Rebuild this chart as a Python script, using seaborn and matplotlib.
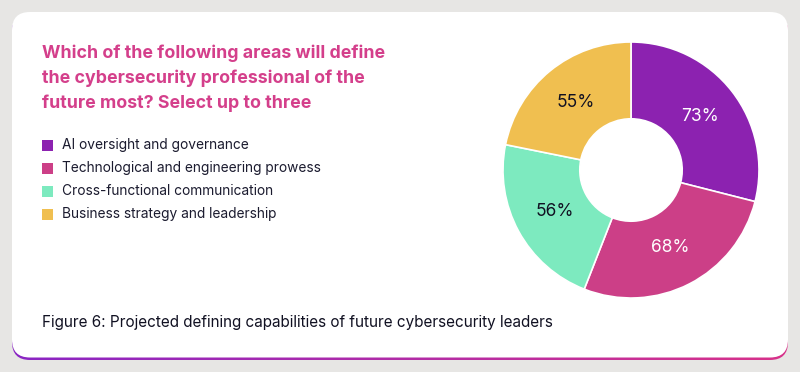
import numpy as np
import matplotlib
matplotlib.use("Agg")
import matplotlib.pyplot as plt
from matplotlib.patches import FancyBboxPatch, Rectangle
from matplotlib.colors import LinearSegmentedColormap
import seaborn as sns

categories = ["AI oversight and governance",
              "Technological and engineering prowess",
              "Cross-functional communication",
              "Business strategy and leadership"]
values = [73, 68, 56, 55]
value_labels = ["73%", "68%", "56%", "55%"]
colors = ["#8c22b0", "#cc3f87", "#7deabf", "#f0bf50"]
label_colors = ["white", "white", "#111122", "#111122"]
title_lines = ["Which of the following areas will define",
               "the cybersecurity professional of the",
               "future most? Select up to three"]
caption = "Figure 6: Projected defining capabilities of future cybersecurity leaders"

sns.set_theme(style="white")
plt.rcParams['font.family'] = ['Inter', 'DejaVu Sans']

W, H = 800, 372
fig = plt.figure(figsize=(W / 100, H / 100), dpi=100)
fig.patch.set_facecolor("#e7e6e4")

bg = fig.add_axes([0, 0, 1, 1])
bg.set_xlim(0, W)
bg.set_ylim(H, 0)
bg.axis("off")

# gradient strip under the card
grad_patch = FancyBboxPatch((12, 14), 776, 346, boxstyle="round,pad=0,rounding_size=18",
                            facecolor="none", edgecolor="none")
bg.add_patch(grad_patch)
cmap = LinearSegmentedColormap.from_list("g", ["#8a25c4", "#d8328a"])
gimg = bg.imshow(np.linspace(0, 1, 256)[None, :], cmap=cmap, aspect="auto",
                 extent=[12, 788, 360, 14], zorder=1)
gimg.set_clip_path(grad_patch)
card = FancyBboxPatch((12, 12), 776, 345.5, boxstyle="round,pad=0,rounding_size=18",
                      facecolor="white", edgecolor="none", zorder=2)
bg.add_patch(card)
bg.set_xlim(0, W)
bg.set_ylim(H, 0)

for i, line in enumerate(title_lines):
    bg.text(42, 53 + 25 * i, line, color="#d43f8b", fontsize=12.8, fontweight="bold",
            va="center", ha="left", zorder=3)

for i, (cat, c) in enumerate(zip(categories, colors)):
    y = 145 + 23 * i
    bg.add_patch(Rectangle((42, y - 5.5), 11, 11, facecolor=c, edgecolor="none", zorder=3))
    bg.text(62, y, cat, color="#1b1b2f", fontsize=9.9, va="center", ha="left", zorder=3)

bg.text(42, 323, caption, color="#111122", fontsize=11.0, va="center", ha="left", zorder=3)

# donut
cx, cy, r = 631, 170, 128
ax = fig.add_axes([(cx - r) / W, (H - cy - r) / H, 2 * r / W, 2 * r / H])
ax.set_zorder(5)
wedges, texts = ax.pie(values, colors=colors, startangle=90, counterclock=False,
                       radius=1, wedgeprops=dict(width=0.6, edgecolor="white", linewidth=1.2))
total = sum(values)
start = 90.0
for v, lab, lc in zip(values, value_labels, label_colors):
    ang = np.deg2rad(start - v / total * 360 / 2)
    start -= v / total * 360
    ax.text(0.68 * np.cos(ang), 0.68 * np.sin(ang), lab, ha="center", va="center",
            color=lc, fontsize=12.5)
ax.set_xlim(-1, 1)
ax.set_ylim(-1, 1)
ax.axis("off")

fig.savefig("out.png", dpi=100, facecolor=fig.get_facecolor())
